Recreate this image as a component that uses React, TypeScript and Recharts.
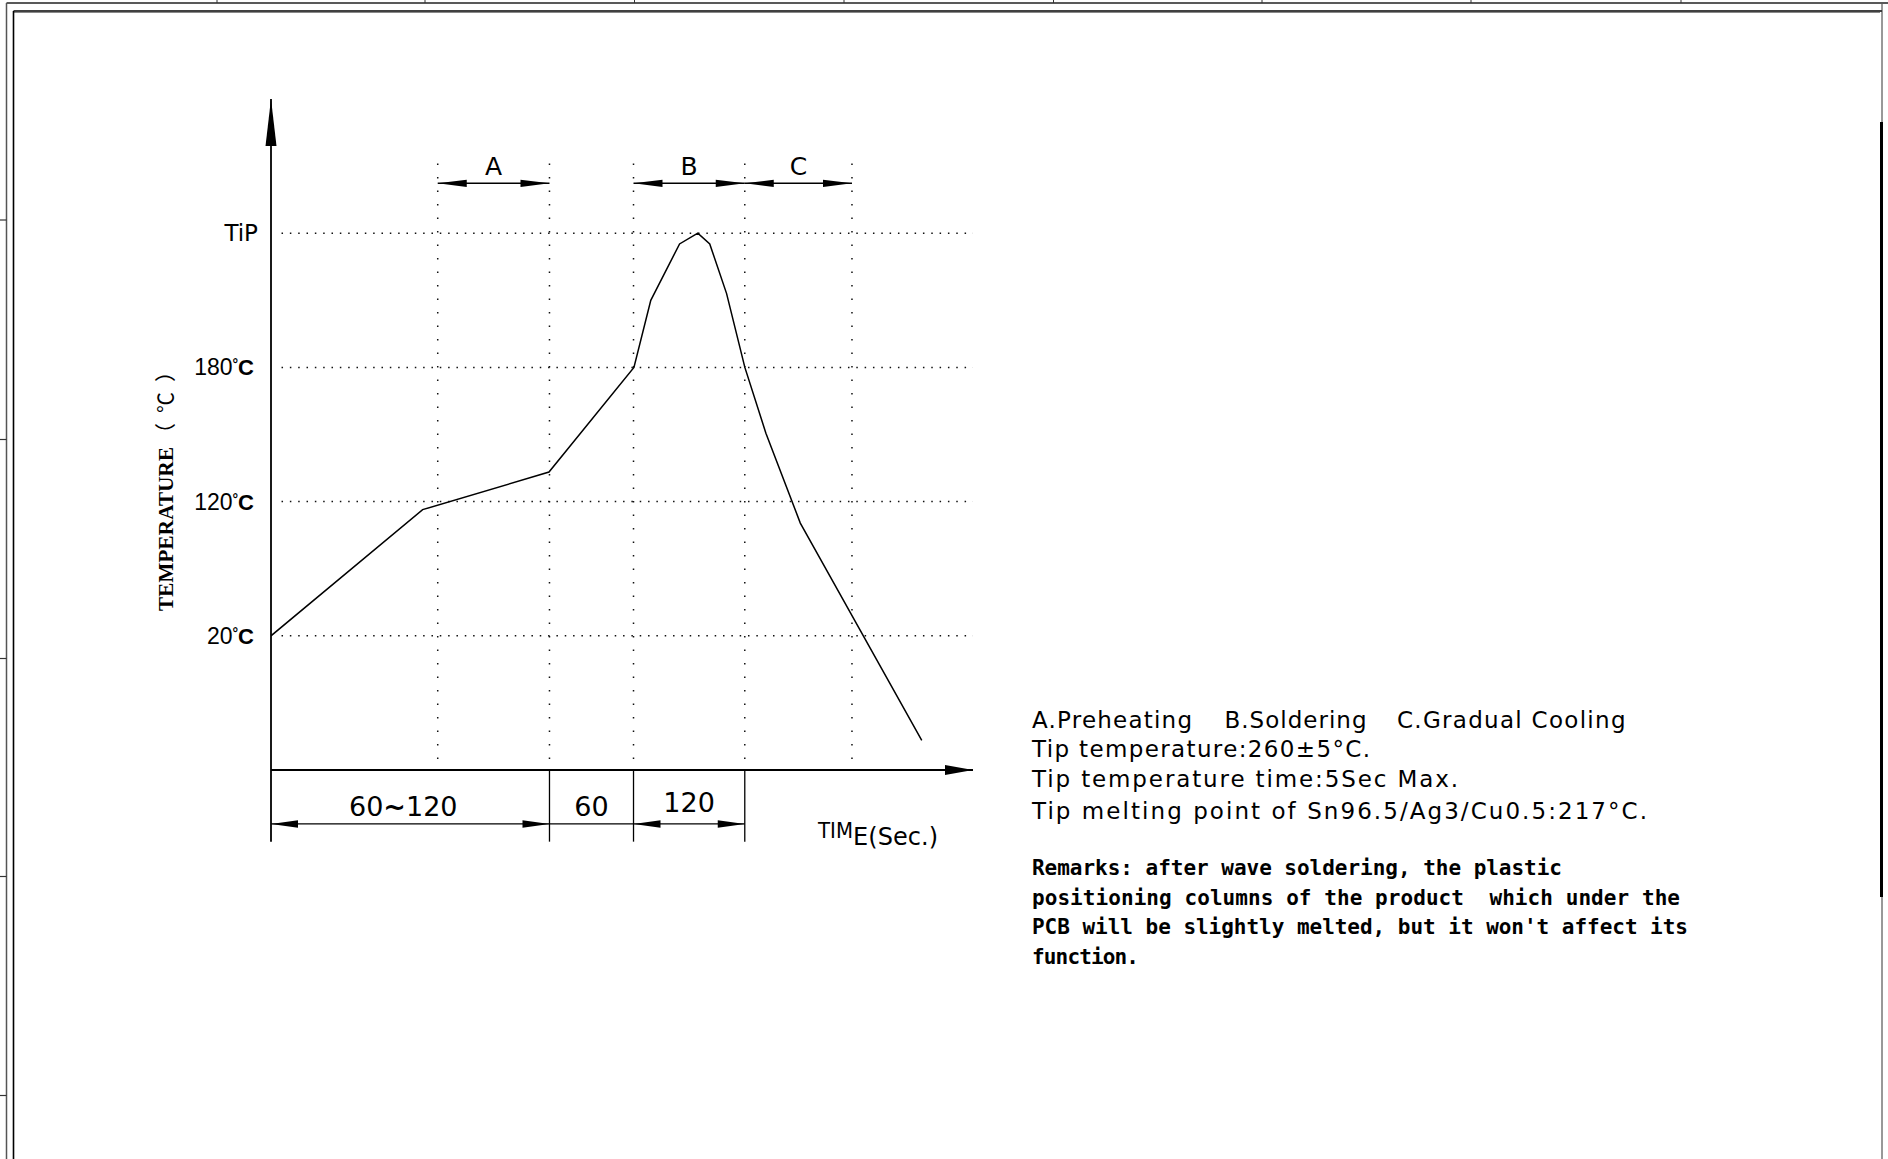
import React from 'react';
import { LineChart, Line, XAxis, YAxis, ReferenceLine } from 'recharts';

// ---------------- data ----------------
// schematic time units (0..100 across the time axis) and temperature levels (1=20℃, 2=120℃, 3=180℃, 4=TiP)
const curveTime = [0, 21.6, 39.6, 51.7, 54.1, 58.2, 60.8, 62.5, 64.9, 67.5, 70.5, 75.4, 92.7];
const curveLevel = [1.0, 1.94, 2.22, 3.0, 3.5, 3.92, 4.0, 3.92, 3.55, 3.0, 2.51, 1.84, 0.22];
const levelTicks = [1, 2, 3, 4];
const levelLabels = ['20', '120', '180', 'TiP'];
const guideTimes = [23.75, 39.67, 51.64, 67.49, 82.76];
const phaseNames = ['A', 'B', 'C'];
const phaseStart = [23.75, 51.64, 67.49];
const phaseEnd = [39.67, 67.49, 82.76];
const stageLabels = ['60~120', '60', '120'];
const stageStart = [0, 39.67, 51.64];
const stageEnd = [39.67, 51.64, 67.49];
const stageHasArrows = [true, false, true];
const stageBounds = [39.67, 51.64, 67.49];
const legendParts = ['A.Preheating', 'B.Soldering', 'C.Gradual Cooling'];
const specLines = [
  'Tip temperature:260±5°C.',
  'Tip temperature time:5Sec Max.',
  'Tip melting point of Sn96.5/Ag3/Cu0.5:217°C.',
];
const remarkLines = [
  'Remarks: after wave soldering, the plastic',
  'positioning columns of the product  which under the',
  "PCB will be slightly melted, but it won't affect its",
  'function.',
];

const curve = curveTime.map((t, i) => ({ t, level: curveLevel[i] }));

// ---------------- layout / style ----------------
const W = 1888;
const H = 1159;
const X_MAX = 100;
const Y_MAX = 5;
const PHASE_LEVEL = 4.372;
const DIM_LEVEL = -0.402;
const EXT_LEVEL = -0.534;
const GUIDE_TOP = 4.52;
const GUIDE_BOTTOM = 0.07;
const SANS = '"DejaVu Sans", sans-serif';
const LSANS = '"Liberation Sans", Arial, sans-serif';

const head = (tx: number, ty: number, ux: number, uy: number, len: number, half: number) => {
  const bx = tx - ux * len;
  const by = ty - uy * len;
  const px = -uy * half;
  const py = ux * half;
  return (
    <polygon
      points={`${tx},${ty} ${bx + px},${by + py} ${bx - px},${by - py}`}
      fill="#000"
      stroke="none"
    />
  );
};

type ArrowOpts = {
  start?: boolean;
  end?: boolean;
  len?: number;
  half?: number;
  width?: number;
  label?: React.ReactNode;
  labelDx?: number;
  labelDy?: number;
  fontSize?: number;
  extra?: (x1: number, y1: number, x2: number, y2: number) => React.ReactNode;
};

const arrowShape = (o: ArrowOpts) => (p: any) => {
  const x1 = Number(p.x1);
  const y1 = Number(p.y1);
  const x2 = Number(p.x2);
  const y2 = Number(p.y2);
  const dx = x2 - x1;
  const dy = y2 - y1;
  const L = Math.hypot(dx, dy) || 1;
  const ux = dx / L;
  const uy = dy / L;
  const len = o.len ?? 28;
  const half = o.half ?? 3.6;
  return (
    <g>
      <line x1={x1} y1={y1} x2={x2} y2={y2} stroke="#000" strokeWidth={o.width ?? 1.3} />
      {o.start ? head(x1, y1, -ux, -uy, len, half) : null}
      {o.end ? head(x2, y2, ux, uy, len, half) : null}
      {o.label !== undefined ? (
        <text
          x={(x1 + x2) / 2 + (o.labelDx ?? 0)}
          y={(y1 + y2) / 2 + (o.labelDy ?? -8)}
          textAnchor="middle"
          fontFamily={SANS}
          fontSize={o.fontSize ?? 25}
          fill="#000"
        >
          {o.label}
        </text>
      ) : null}
      {o.extra ? o.extra(x1, y1, x2, y2) : null}
    </g>
  );
};

const dottedShape = (dash: string) => (p: any) => (
  <line
    x1={Number(p.x1)}
    y1={Number(p.y1)}
    x2={Number(p.x2)}
    y2={Number(p.y2)}
    stroke="#111"
    strokeWidth={1.5}
    strokeDasharray={dash}
  />
);

const YTick = (props: any) => {
  const { x, y, payload } = props;
  const i = levelTicks.indexOf(payload.value);
  const lab = levelLabels[i];
  if (lab === 'TiP') {
    return (
      <text x={x + 2} y={y + 8} textAnchor="end" fontFamily={SANS} fontSize={23} fill="#000">
        TiP
      </text>
    );
  }
  return (
    <text x={x - 2} y={y + 8} textAnchor="end" fontFamily={LSANS} fontSize={23} fill="#000">
      {lab}
      <tspan fontSize={14} fontWeight="bold" dy={-6}>°</tspan>
      <tspan fontWeight="bold" fontSize={22} dy={6}>C</tspan>
    </text>
  );
};

const Frame = () => {
  const topTicks = [217, 425, 634.5, 844, 1053.5, 1262, 1471, 1681];
  const leftTicks = [220, 439.5, 658.5, 876.5, 1095.5];
  return (
    <g>
      <line x1={6.5} y1={3} x2={W} y2={3} stroke="#222" strokeWidth={1.3} />
      <line x1={6.5} y1={3} x2={6.5} y2={H} stroke="#555" strokeWidth={1.5} />
      {topTicks.map((x) => (
        <line key={'t' + x} x1={x} y1={0} x2={x} y2={3} stroke="#333" strokeWidth={1} />
      ))}
      {leftTicks.map((y) => (
        <line key={'l' + y} x1={0} y1={y} x2={6.5} y2={y} stroke="#333" strokeWidth={1.2} />
      ))}
      <line x1={13.5} y1={11} x2={1882} y2={11} stroke="#000" strokeWidth={1.6} />
      <line x1={13.5} y1={12.5} x2={1880} y2={12.5} stroke="#888" strokeWidth={1} />
      <line x1={13.5} y1={11} x2={13.5} y2={H} stroke="#000" strokeWidth={1.6} />
      <line x1={1882} y1={4} x2={1882} y2={H} stroke="#333" strokeWidth={1} />
      <line x1={1881.5} y1={122} x2={1881.5} y2={897} stroke="#000" strokeWidth={3} />
    </g>
  );
};

const Notes = () => {
  const legendX = [1032, 1224.5, 1397];
  const legendLen = [160, 142, 228.5];
  const specBase = [757, 787, 819];
  const specLen = [338, 426, 615];
  const remBase = [875, 905, 934, 964];
  const remLen = [530, 648, 656, 107];
  return (
    <g fill="#000">
      {legendParts.map((s, i) => (
        <text
          key={s}
          x={legendX[i]}
          y={728}
          fontFamily={SANS}
          fontSize={23}
          textLength={legendLen[i]}
          lengthAdjust="spacing"
        >
          {s}
        </text>
      ))}
      {specLines.map((s, i) => (
        <text
          key={s}
          x={1032}
          y={specBase[i]}
          fontFamily={SANS}
          fontSize={23}
          textLength={specLen[i]}
          lengthAdjust="spacing"
          style={{ whiteSpace: 'pre' }}
        >
          {s}
        </text>
      ))}
      {remarkLines.map((s, i) => (
        <text
          key={s}
          x={1032}
          y={remBase[i]}
          fontFamily='"DejaVu Sans Mono", monospace'
          fontWeight="bold"
          fontSize={21}
          textLength={remLen[i]}
          lengthAdjust="spacing"
          style={{ whiteSpace: 'pre' }}
        >
          {s}
        </text>
      ))}
      <text
        transform="translate(173,611) rotate(-90)"
        fontFamily='"Liberation Serif", serif'
        fontWeight="bold"
        fontSize={21}
        textLength={164}
        lengthAdjust="spacing"
      >
        TEMPERATURE
      </text>
      <text
        transform="translate(173,444) rotate(-90)"
        fontFamily='"Noto Sans CJK SC", sans-serif'
        fontSize={21}
        textLength={83}
        lengthAdjust="spacing"
      >
        （℃）
      </text>
    </g>
  );
};

export default function App() {
  return (
    <div
      style={{
        position: 'fixed',
        left: 0,
        top: 0,
        width: W,
        height: H,
        background: '#fff',
        overflow: 'hidden',
      }}
    >
      <div style={{ position: 'absolute', left: 0, top: 0 }}>
        <LineChart width={W} height={H} data={curve} margin={{ top: 99, right: 915, bottom: 389, left: 211 }}>
          <XAxis dataKey="t" type="number" domain={[0, X_MAX]} hide allowDataOverflow />
          <YAxis
            type="number"
            domain={[0, Y_MAX]}
            ticks={levelTicks}
            interval={0}
            width={60}
            axisLine={false}
            tickLine={false}
            tickSize={0}
            tickMargin={15}
            tick={(props: any) => <YTick {...props} />}
            allowDataOverflow
          />
          {levelTicks.map((lv) => (
            <ReferenceLine
              key={'h' + lv}
              segment={[
                { x: 1.5, y: lv },
                { x: X_MAX, y: lv },
              ]}
              ifOverflow="visible"
              shape={dottedShape('1.5 6.83')}
            />
          ))}
          {guideTimes.map((t) => (
            <ReferenceLine
              key={'v' + t}
              segment={[
                { x: t, y: GUIDE_TOP },
                { x: t, y: GUIDE_BOTTOM },
              ]}
              ifOverflow="visible"
              shape={dottedShape('1.5 12')}
            />
          ))}
          <Line
            type="linear"
            dataKey="level"
            stroke="#000"
            strokeWidth={1.5}
            dot={false}
            activeDot={false}
            isAnimationActive={false}
          />
          {phaseNames.map((n, i) => (
            <ReferenceLine
              key={'p' + n}
              segment={[
                { x: phaseStart[i], y: PHASE_LEVEL },
                { x: phaseEnd[i], y: PHASE_LEVEL },
              ]}
              ifOverflow="visible"
              shape={arrowShape({ start: true, end: true, len: 29, half: 3.6, width: 1.4, label: n, labelDy: -8, fontSize: 25 })}
            />
          ))}
          {stageLabels.map((s, i) => (
            <ReferenceLine
              key={'s' + i}
              segment={[
                { x: stageStart[i], y: DIM_LEVEL },
                { x: stageEnd[i], y: DIM_LEVEL },
              ]}
              ifOverflow="visible"
              shape={arrowShape({
                start: stageHasArrows[i],
                end: stageHasArrows[i],
                len: 27,
                half: 3.7,
                width: 1.3,
                label:
                  s === '60~120' ? (
                    <>
                      <tspan>60</tspan>
                      <tspan fontWeight="bold">~</tspan>
                      <tspan>120</tspan>
                    </>
                  ) : (
                    s
                  ),
                labelDx: s === '60~120' ? -7 : 0,
                labelDy: s === '120' ? -12 : -8,
                fontSize: 27,
              })}
            />
          ))}
          {stageBounds.map((b) => (
            <ReferenceLine
              key={'e' + b}
              segment={[
                { x: b, y: 0 },
                { x: b, y: EXT_LEVEL },
              ]}
              ifOverflow="visible"
              shape={arrowShape({ width: 1.3 })}
            />
          ))}
          <ReferenceLine
            segment={[
              { x: 0, y: EXT_LEVEL },
              { x: 0, y: Y_MAX },
            ]}
            ifOverflow="visible"
            shape={arrowShape({ end: true, len: 47, half: 5.5, width: 1.8 })}
          />
          <ReferenceLine
            segment={[
              { x: 0, y: 0 },
              { x: X_MAX, y: 0 },
            ]}
            ifOverflow="visible"
            shape={arrowShape({
              end: true,
              len: 28,
              half: 5,
              width: 1.8,
              extra: (x1, y1, x2, y2) => (
                <g fontFamily={SANS} fill="#000">
                  <text x={x2 - 155} y={y2 + 68} fontSize={22} textLength={35} lengthAdjust="spacingAndGlyphs">
                    TIM
                  </text>
                  <text x={x2 - 120} y={y2 + 75} fontSize={24} textLength={85} lengthAdjust="spacing">
                    E(Sec.)
                  </text>
                </g>
              ),
            })}
          />
        </LineChart>
      </div>
      <svg
        width={W}
        height={H}
        style={{ position: 'absolute', left: 0, top: 0, pointerEvents: 'none' }}
      >
        <Frame />
        <Notes />
      </svg>
    </div>
  );
}
